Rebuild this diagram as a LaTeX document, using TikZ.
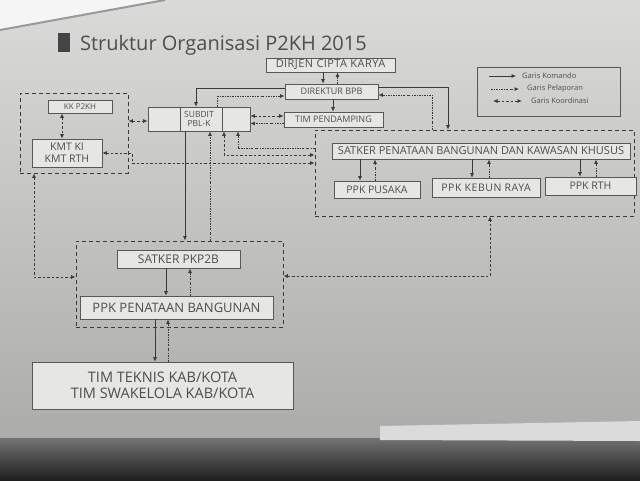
\documentclass[tikz,border=0pt]{standalone}
\usepackage{fontspec}
\setmainfont{Open Sans}
\newfontfamily\widefont[LetterSpace=4]{Open Sans}
\newfontfamily\semiwidefont[LetterSpace=5]{Open Sans}
\usetikzlibrary{arrows.meta}
\definecolor{paperA}{RGB}{218,218,216}
\definecolor{paperB}{RGB}{172,172,170}
\definecolor{ink}{RGB}{58,58,58}
\definecolor{txt}{RGB}{78,78,78}
\definecolor{boxfill}{RGB}{230,230,228}
\tikzset{
  box/.style={draw=ink!85, fill=boxfill, line width=0.7pt, inner sep=0pt, text=txt, align=center},
  grp/.style={draw=ink, line width=0.9pt, dash pattern=on 4pt off 3pt, inner sep=0pt},
  kom/.style={draw=ink, line width=0.7pt, -{Latex[length=4.5pt,width=4pt]}},
  lap/.style={draw=ink, line width=0.8pt, dash pattern=on 2pt off 1.2pt on 0.7pt off 1.2pt, -{Latex[length=4.5pt,width=4pt]}},
  kor/.style={draw=ink, line width=0.8pt, dash pattern=on 2.5pt off 2pt, {Latex[length=4.5pt,width=4pt]}-{Latex[length=4.5pt,width=4pt]}},
}
\begin{document}
\begin{tikzpicture}[x=1pt,y=-1pt]
\useasboundingbox (0,0) rectangle (640,480);
% paper
\shade[top color=paperA, bottom color=paperB] (0,0) rectangle (640,438);
\shade[top color=black!55, bottom color=black!88] (0,438) rectangle (640,480);
\fill[black!14] (380,426) -- (640,421) -- (640,441) -- (380,440) -- cycle;
\fill[black!4] (0,0) -- (165,0) -- (0,30) -- cycle;
\draw[black!40, line width=2pt] (165,0) -- (0,30);
% title
\fill[ink!95] (58,33) rectangle (70,52);
\node[anchor=base west, font=\fontsize{20pt}{22pt}\selectfont, text=ink!90, inner sep=0pt] (title) at (80,50) {Struktur Organisasi P2KH 2015};
% groups
\node[grp, minimum width=108pt, minimum height=80pt] (g1) at (74,133) {};
\node[grp, minimum width=319pt, minimum height=86pt] (g2) at (474.5,173) {};
\node[grp, minimum width=207pt, minimum height=86pt] (g3) at (179.5,284) {};
% boxes
\node[box, font=\widefont\fontsize{11pt}{13pt}\selectfont, minimum width=129pt, minimum height=14pt] (dirjen) at (330.5,65) {DIRJEN CIPTA KARYA};
\node[box, font=\fontsize{9pt}{10pt}\selectfont, minimum width=93pt, minimum height=15pt] (direktur) at (331.5,91.5) {DIREKTUR BPB};
\node[box, font=\fontsize{9pt}{10pt}\selectfont, minimum width=99pt, minimum height=15pt] (timp) at (333.5,119.5) {TIM PENDAMPING};
\node[box, font=\fontsize{8.5pt}{9.5pt}\selectfont, minimum width=102pt, minimum height=24pt] (subdit) at (199,119) {SUBDIT\\PBL-K};
\draw[ink!85, line width=0.7pt] ([xshift=-19pt]subdit.north) -- ([xshift=-19pt]subdit.south);
\draw[ink!85, line width=0.7pt] ([xshift=23pt]subdit.north) -- ([xshift=23pt]subdit.south);
\node[box, font=\fontsize{8pt}{9pt}\selectfont, minimum width=64pt, minimum height=13pt] (kk) at (80,106.5) {KK P2KH};
\node[box, font=\fontsize{10.5pt}{12pt}\selectfont, minimum width=70pt, minimum height=28pt] (kmt) at (67,153) {KMT KI\\KMT RTH};
\node[box, font=\fontsize{11pt}{12pt}\selectfont, minimum width=298pt, minimum height=16pt] (satker) at (481,151) {SATKER PENATAAN BANGUNAN DAN KAWASAN KHUSUS};
\node[box, font=\fontsize{10.5pt}{12pt}\selectfont, minimum width=86pt, minimum height=17pt] (ppk1) at (377,189.5) {PPK PUSAKA};
\node[box, font=\semiwidefont\fontsize{10.5pt}{12pt}\selectfont, minimum width=108pt, minimum height=19pt] (ppk2) at (486,187.5) {PPK KEBUN RAYA};
\node[box, font=\fontsize{10.5pt}{12pt}\selectfont, minimum width=91pt, minimum height=18pt] (ppk3) at (590.5,186) {PPK RTH};
\node[box, font=\fontsize{12pt}{14pt}\selectfont, minimum width=123pt, minimum height=18pt] (pkp2b) at (178.5,259) {SATKER PKP2B};
\node[box, font=\fontsize{13pt}{15pt}\selectfont, minimum width=193pt, minimum height=23pt] (ppkpb) at (176.5,307.5) {PPK PENATAAN BANGUNAN};
\node[box, font=\fontsize{14.5pt}{16.5pt}\selectfont, minimum width=261pt, minimum height=47pt] (tim) at (162.5,385.5) {TIM TEKNIS KAB/KOTA\\TIM SWAKELOLA KAB/KOTA};
% legend
\node[draw=ink!85, line width=0.7pt, minimum width=143pt, minimum height=49pt, inner sep=0pt] (legend) at (548.5,91.5) {};
\draw[kom] (489,76) -- (516,76);
\node[anchor=west, font=\fontsize{7.5pt}{9pt}\selectfont, text=txt, inner sep=0pt] (lg1) at (522,76) {Garis Komando};
\draw[lap] (491,89) -- (519,89);
\node[anchor=west, font=\fontsize{7.5pt}{9pt}\selectfont, text=txt, inner sep=0pt] (lg2) at (527,89) {Garis Pelaporan};
\draw[kor] (493,101) -- (522,101);
\node[anchor=west, font=\fontsize{7.5pt}{9pt}\selectfont, text=txt, inner sep=0pt] (lg3) at (531,101) {Garis Koordinasi};
% connectors
\draw[kom] ([xshift=-7.5pt]dirjen.south) -- ([xshift=-7.5pt]dirjen.south |- direktur.north);
\draw[lap] ([xshift=6pt]direktur.north) -- ([xshift=6pt]direktur.north |- dirjen.south);
\draw[kom] ([xshift=1.5pt]direktur.south) -- ([xshift=1.5pt]direktur.south |- timp.north);
\draw[kom] ([yshift=3.5pt]direktur.west) -| ([xshift=-3pt]subdit.north);
\draw[lap] ([xshift=18pt]subdit.north) |- ([yshift=-4.5pt]direktur.west);
\draw[kor] ([yshift=3pt]subdit.east) -- ([yshift=3pt]subdit.east -| timp.west);
\draw[lap] ([yshift=-4pt]timp.west) -- ([yshift=-4pt]timp.west -| subdit.east);
\draw[kom] ([xshift=-14pt]subdit.south) -- ([xshift=-14pt]subdit.south |- g3.north);
\draw[lap] ([xshift=30.5pt]g3.north) -- ([xshift=30.5pt]g3.north |- subdit.south);
\draw[kor] ([xshift=25pt]subdit.south) |- ([yshift=18pt]g2.west);
\draw[lap] ([yshift=25pt]g2.west) -| ([xshift=39pt]subdit.south);
\draw[kor] (kmt.east) -- ++(30,0) |- ([yshift=10pt]g2.west);
\draw[kor] ([xshift=-18pt]kk.south) -- ([xshift=-18pt]kk.south |- kmt.north);
\draw[kor] ([yshift=12pt]g1.east) -- ([yshift=12pt]g1.east -| subdit.west);
\draw[kor] ([xshift=-40pt]g1.south) |- ([yshift=7pt]g3.west);
\draw[kor] ([yshift=8pt]g3.east) -| ([xshift=15.5pt]g2.south);
\draw[kom] ([yshift=4.5pt]direktur.east) -| ([xshift=-26.5pt]g2.north);
\draw[lap] ([xshift=-42.5pt]g2.north) |- ([yshift=-3.5pt]direktur.east);
% satker -> ppk
\draw[kom] ([xshift=-17pt]ppk1.north |- satker.south) -- ([xshift=-17pt]ppk1.north);
\draw[lap] ([xshift=-2pt]ppk1.north) -- ([xshift=-2pt]ppk1.north |- satker.south);
\draw[kom] ([xshift=-14pt]ppk2.north |- satker.south) -- ([xshift=-14pt]ppk2.north);
\draw[lap] ([xshift=3pt]ppk2.north) -- ([xshift=3pt]ppk2.north |- satker.south);
\draw[kom] ([xshift=-10.5pt]ppk3.north |- satker.south) -- ([xshift=-10.5pt]ppk3.north);
\draw[lap] ([xshift=5.5pt]ppk3.north) -- ([xshift=5.5pt]ppk3.north |- satker.south);
% pkp2b chain
\draw[kom] ([xshift=-12.5pt]pkp2b.south) -- ([xshift=-12.5pt]pkp2b.south |- ppkpb.north);
\draw[lap] ([xshift=13.5pt]ppkpb.north) -- ([xshift=13.5pt]ppkpb.north |- pkp2b.south);
\draw[kom] ([xshift=-21.5pt]ppkpb.south) -- ([xshift=-21.5pt]ppkpb.south |- tim.north);
\draw[lap] ([xshift=5.5pt]tim.north) -- ([xshift=5.5pt]tim.north |- ppkpb.south);
\end{tikzpicture}
\end{document}
